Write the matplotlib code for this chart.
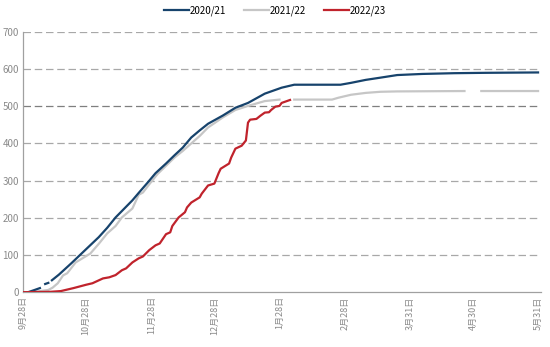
import numpy as np
import matplotlib
matplotlib.use("Agg")
import matplotlib.pyplot as plt

plt.rcParams['font.family'] = ['Noto Sans CJK SC', 'DejaVu Sans']

# Day offsets from 9月28日, cumulative values
tick_days = [0, 30, 61, 91, 122, 153, 184, 214, 245]
tick_labels = ["9月28日", "10月28日", "11月28日", "12月28日", "1月28日",
               "2月28日", "3月31日", "4月30日", "5月31日"]

days_2021 = [2.4, 5, 8, 9.2, 10.5, 12, 12.8, 13.7, 17, 23, 28, 36, 40, 44, 52, 55, 59,
             63, 68, 72, 76, 80, 84, 88, 95, 101, 107, 115, 123, 129, 151, 156, 163,
             170, 178, 190, 205, 220, 245]
vals_2021 = [0, 5, 11, np.nan, 22, 25, np.nan, 32, 47, 78, 105, 148, 173, 201, 247,
             267, 293, 320, 346, 368, 389, 416, 435, 453, 475, 496, 509, 534, 550, 558,
             558, 563, 571, 577, 584, 587, 589, 590, 591]

days_2122 = [5.7, 12, 14, 16.5, 19, 21, 25, 32, 36, 40, 44, 47, 52, 55, 57, 60, 64, 68,
             72, 76, 80, 84, 88, 95, 101, 107, 115, 122, 125, 129, 147, 150, 156, 163,
             170, 178, 210, 214, 218, 245]
vals_2122 = [1, 6, 12, 24, 45, 51, 80, 104, 130, 158, 178, 201, 225, 262, 268, 290,
             318, 340, 362, 380, 400, 420, 443, 470, 490, 501, 514, 518, np.nan, 518,
             518, 523, 531, 536, 539, 540, 541, np.nan, 541, 541]

days_2223 = [0, 13, 18, 24, 30, 33, 38, 41, 44, 47, 49, 52, 55, 57, 60, 63, 65, 68, 70,
             71, 74, 77, 78, 80, 84, 85, 88, 91, 93, 94, 98, 99, 101, 104, 106, 107,
             108, 111, 113, 115, 117, 118, 120, 122, 123, 127]
vals_2223 = [0, 1, 3, 11, 20, 24, 37, 40, 46, 59, 64, 80, 91, 96, 113, 126, 131, 156,
             161, 178, 201, 215, 228, 241, 255, 265, 287, 292, 320, 332, 346, 362, 386,
             394, 408, 456, 464, 466, 475, 483, 484, 490, 499, 501, 509, 517]

fig = plt.figure(figsize=(5.5, 3.47), dpi=100)
ax = fig.add_axes([0.042, 0.158, 0.942, 0.75])

ax.plot(days_2021, vals_2021, color="#17436c", lw=1.6, label="2020/21", zorder=3)
ax.plot(days_2122, vals_2122, color="#c6c6c6", lw=1.6, label="2021/22", zorder=2)
ax.plot(days_2223, vals_2223, color="#c0232c", lw=1.6, label="2022/23", zorder=4)

ax.set_xlim(0, 246.5)
ax.set_ylim(0, 700)
ax.set_yticks(range(0, 701, 100))
ax.set_xticks(tick_days)
ax.set_xticklabels(tick_labels, rotation=90, fontsize=6.5, color="#8a8a8a")
ax.tick_params(axis='y', labelsize=7, colors="#8a8a8a", length=0, pad=3)
ax.tick_params(axis='x', length=0, pad=3)

for y in range(100, 701, 100):
    ax.axhline(y, color="#7f7f7f" if y == 500 else "#a8a8a8", lw=0.9,
               dashes=(6, 3), zorder=1)

for s in ["top", "right"]:
    ax.spines[s].set_visible(False)
for s in ["left", "bottom"]:
    ax.spines[s].set_color("#a0a0a0")
    ax.spines[s].set_linewidth(0.9)

fig.legend(loc="upper center", bbox_to_anchor=(0.5, 1.01), ncol=3, frameon=False,
           fontsize=7, handlelength=2.6, handletextpad=0.1, columnspacing=1.8)

fig.savefig("out.png", dpi=100)
